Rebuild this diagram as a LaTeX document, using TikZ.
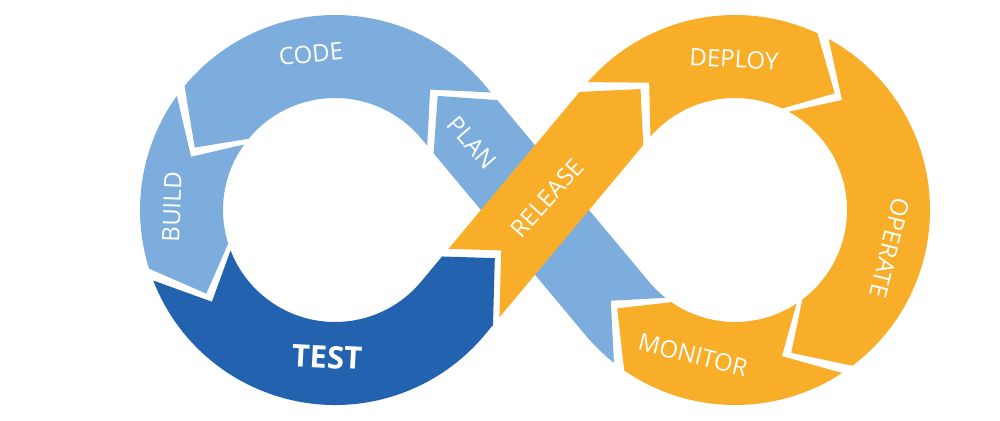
\documentclass[tikz,border=0pt]{standalone}
\usepackage{fontspec}
\setmainfont{Open Sans}
\usetikzlibrary{calc}
\definecolor{lblue}{HTML}{7DADDC}
\definecolor{dblue}{HTML}{2262AE}
\definecolor{orng}{HTML}{F9AE2A}
\begin{document}
\begin{tikzpicture}[x=1pt,y=-1pt,
  lbl/.style={text=white,inner sep=0pt,font=\fontsize{24}{28}\selectfont},
  lbold/.style={text=white,inner sep=0pt,font=\fontsize{31}{36}\selectfont\bfseries},
  seglight/.style={fill=lblue},
  segdark/.style={fill=dblue},
  segorange/.style={fill=orng}]
\useasboundingbox[fill=white] (0,0) rectangle (1000,420);
\coordinate (CL) at (335,210);
\coordinate (CR) at (735,210);
% PLAN (under RELEASE)
\fill[seglight] (610.78,300.73) -- ($(CR)+(128.37:195)$) arc[start angle=128.37,end angle=140.13,radius=195]
  -- (433.60,153.33) -- ($(CL)+(312:153.5)$) -- (497.30,100.13) -- (649.04,281.80)
  arc[start angle=140.13,end angle=128.37,radius=112] -- cycle;
% CODE
\fill[seglight] ($(CL)+(308.3:153.5)$) -- (490.89,92.46) -- ($(CL)+(320.13:195)$)
  arc[start angle=320.13,end angle=219.5,radius=195] -- ($(CL)+(204:153.5)$) -- ($(CL)+(219.5:112)$)
  arc[start angle=219.5,end angle=320.13,radius=112] -- (427.19,145.66) -- cycle;
% BUILD
\fill[seglight] ($(CL)+(200.3:153.5)$) -- ($(CL)+(215.8:195)$)
  arc[start angle=215.8,end angle=162.5,radius=195] -- ($(CL)+(147:153.5)$) -- ($(CL)+(162.5:112)$)
  arc[start angle=162.5,end angle=215.8,radius=112] -- cycle;
% TEST
\fill[segdark] ($(CL)+(143.3:153.5)$) -- ($(CL)+(158.8:195)$)
  arc[start angle=158.8,end angle=39.87,radius=195] -- (493.0,325.0) -- (494.80,258.13) -- (442.11,256.47)
  -- ($(CL)+(39.87:112)$) arc[start angle=39.87,end angle=158.8,radius=112] -- cycle;
% RELEASE
\fill[segorange] (501.21,250.45) -- (499.40,317.35) -- (643.26,145.12) -- ($(CR)+(232:153.5)$)
  -- (579.56,91.92) -- (448.53,248.80) -- cycle;
% DEPLOY
\fill[segorange] ($(CR)+(236:153.5)$) -- ($(CR)+(221:195)$)
  arc[start angle=221,end angle=295,radius=195] -- ($(CR)+(310.5:153.5)$) -- ($(CR)+(295:112)$)
  arc[start angle=295,end angle=221,radius=112] -- cycle;
% OPERATE
\fill[segorange] ($(CR)+(314.2:153.5)$) -- ($(CR)+(298.7:195)$)
  arc[start angle=298.7,end angle=413,radius=195] -- ($(CR)+(428.5:153.5)$) -- ($(CR)+(413:112)$)
  arc[start angle=413,end angle=298.7,radius=112] -- cycle;
% MONITOR
\fill[segorange] ($(CR)+(432.2:153.5)$) -- ($(CR)+(416.7:195)$)
  arc[start angle=416.7,end angle=484.63,radius=195] -- ($(CR)+(500.13:153.5)$) -- ($(CR)+(484.63:112)$)
  arc[start angle=484.63,end angle=416.7,radius=112] -- cycle;
% labels
\node[lbl, rotate=6] (code) at (311,54) {CODE};
\node[lbl, rotate=88] (build) at (172,207) {BUILD};
\node[lbold, rotate=-3] (test) at (327,357) {TEST};
\node[lbl, rotate=-49] (plan) at (472,143) {PLAN};
\node[lbl, rotate=48] (release) at (547,198) {RELEASE};
\node[lbl, rotate=-3] (deploy) at (734,59) {DEPLOY};
\node[lbl, rotate=-104] (operate) at (890,248) {OPERATE};
\node[lbl, rotate=-14] (monitor) at (693,355) {MONITOR};
\end{tikzpicture}
\end{document}
